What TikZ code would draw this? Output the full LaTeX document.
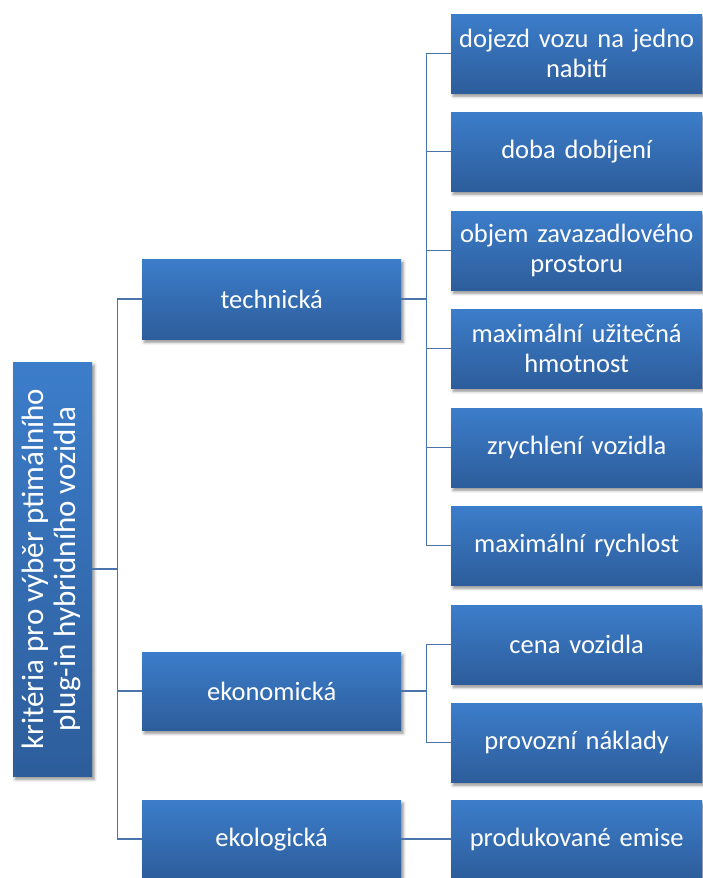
\documentclass[tikz,border=0pt]{standalone}
\usepackage{fontspec}
\setmainfont{Carlito}
\usetikzlibrary{shadows.blur}
\definecolor{boxtop}{HTML}{3C7DCA}
\definecolor{boxbot}{HTML}{2D5D9B}
\definecolor{linec}{HTML}{4A74AC}
\tikzset{
  box/.style={anchor=north west, inner sep=1pt, top color=boxtop, bottom color=boxbot,
    text=white, align=center, font=\fontsize{26.5}{30}\selectfont,
    blur shadow={shadow xshift=2pt, shadow yshift=-3pt, shadow blur radius=3pt, shadow opacity=45}},
  lvltwo/.style={box, minimum width=259pt, minimum height=80pt},
  leaf/.style={box, minimum width=251pt, minimum height=79pt, text width=249pt},
  conn/.style={draw=linec, line width=1.5pt}
}
\begin{document}
\begin{tikzpicture}[x=1pt,y=1pt]
\useasboundingbox (0,0) rectangle (702,-878);
\node[box, minimum width=79pt, minimum height=414pt] (root) at (13,-362)
  {\rotatebox{90}{\fontsize{31}{32}\selectfont\begin{tabular}{@{}c@{}}kritéria pro výběr ptimálního\\plug-in hybridního vozidla\end{tabular}}};
\node[lvltwo] (tech) at (142,-259) {technická};
\node[lvltwo, minimum height=78pt] (ekon) at (142,-652) {ekonomická};
\node[lvltwo, minimum height=78pt] (ekol) at (142,-800) {ekologická};
\node[leaf] (l1) at (451,-14) {dojezd vozu na jedno\\nabití};
\node[leaf] (l2) at (451,-112) {doba dobíjení};
\node[leaf] (l3) at (451,-211) {objem zavazadlového\\prostoru};
\node[leaf] (l4) at (451,-309) {maximální užitečná\\hmotnost};
\node[leaf] (l5) at (451,-408) {zrychlení vozidla};
\node[leaf] (l6) at (451,-506) {maximální rychlost};
\node[leaf] (l7) at (451,-605) {cena vozidla};
\node[leaf] (l8) at (451,-703) {provozní náklady};
\node[leaf] (l9) at (451,-800) {produkované emise};
\foreach \c in {tech,ekon,ekol} \draw[conn] (root.east) -- ++(25,0) |- (\c.west);
\foreach \c in {l1,l2,l3,l4,l5,l6} \draw[conn] (tech.east) -- ++(25,0) |- (\c.west);
\foreach \c in {l7,l8} \draw[conn] (ekon.east) -- ++(25,0) |- (\c.west);
\draw[conn] (ekol.east) -- (ekol.east -| l9.west);
\end{tikzpicture}
\end{document}
